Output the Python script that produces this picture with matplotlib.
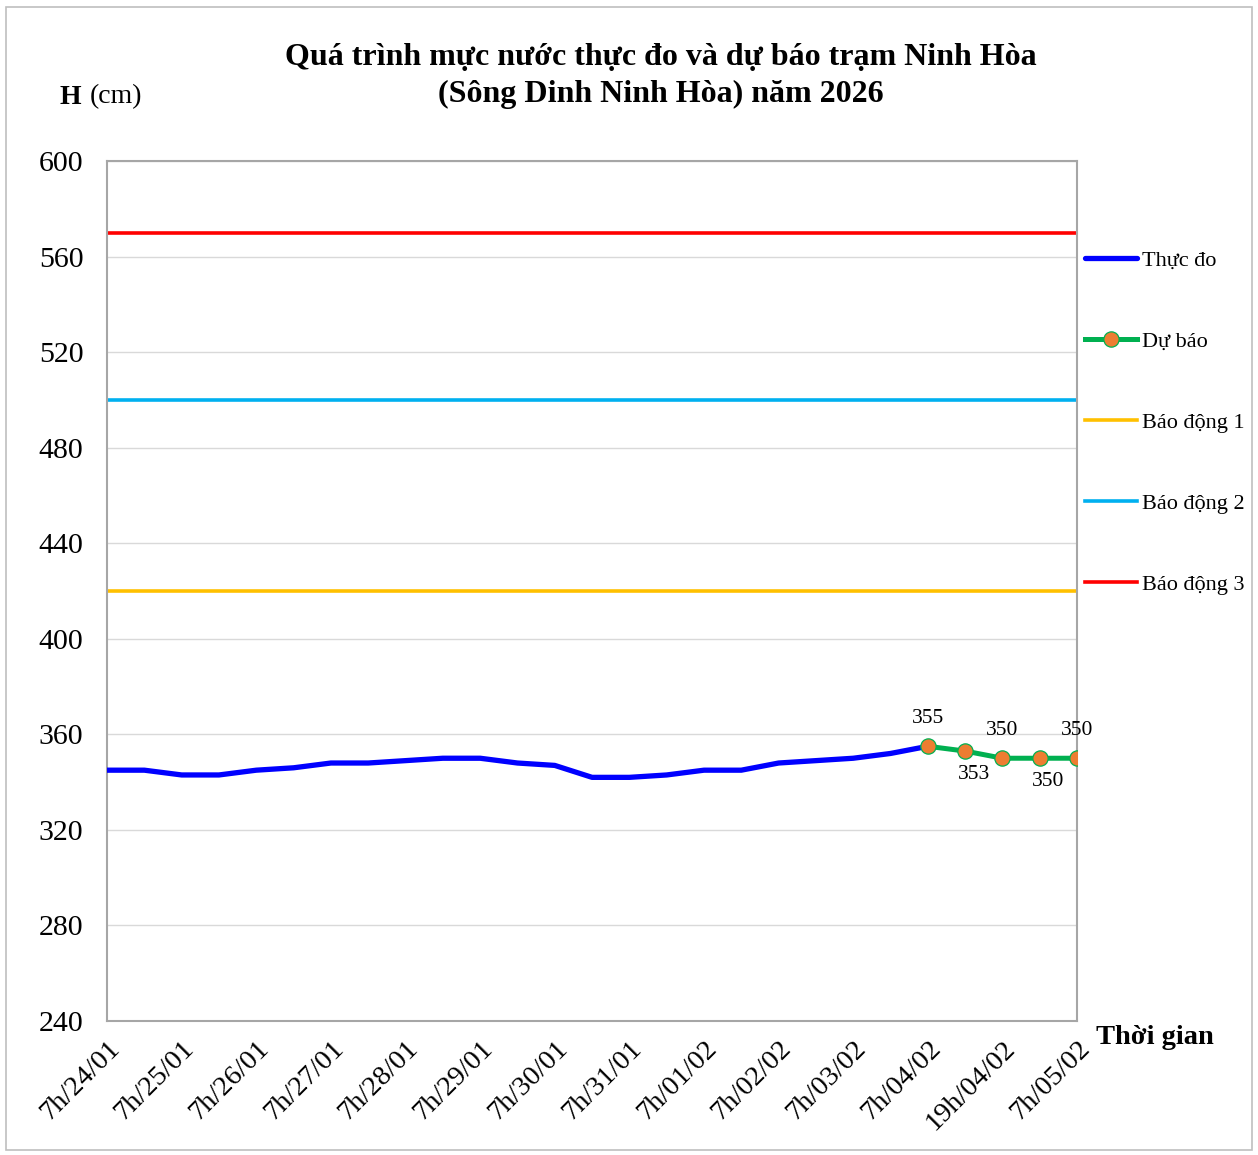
import matplotlib.pyplot as plt
from matplotlib.patches import Rectangle

# tick labels (category axis)
x_labels = ['7h/24/01', '7h/25/01', '7h/26/01', '7h/27/01', '7h/28/01', '7h/29/01',
            '7h/30/01', '7h/31/01', '7h/01/02', '7h/02/02', '7h/03/02', '7h/04/02',
            '19h/04/02', '7h/05/02']

# measured water level, every 12h from 7h/24/01 to 7h/04/02
obs_x = [i * 0.5 for i in range(23)]
obs_h = [345, 345, 343, 343, 345, 346, 348, 348, 349, 350, 350, 348,
         347, 342, 342, 343, 345, 345, 348, 349, 350, 352, 355]

# forecast
fc_x = [11, 11.5, 12, 12.5, 13]
fc_h = [355, 353, 350, 350, 350]
fc_label_pos = ['above', 'below', 'above', 'below', 'above']

# alarm levels
alarm1 = 420
alarm2 = 500
alarm3 = 570

plt.rcParams['font.family'] = ['Liberation Serif', 'DejaVu Serif']

fig = plt.figure(figsize=(12.58, 11.55), dpi=100)
ax = fig.add_axes([0.0851, 0.1160, 0.7711, 0.7446])

fig.patches.append(Rectangle((0.005, 0.004), 0.99, 0.99, transform=fig.transFigure,
                             fill=False, edgecolor='#BFBFBF', linewidth=1.2))

x_end = len(x_labels) - 1
l_obs, = ax.plot(obs_x, obs_h, color='#0000FF', lw=3.8, solid_joinstyle='round',
                 solid_capstyle='round', zorder=4, label='Thực đo')
l_fc, = ax.plot(fc_x, fc_h, color='#00B050', lw=3.6, marker='o', markersize=11,
                markerfacecolor='#ED7D31', markeredgecolor='#00B050', markeredgewidth=0.9,
                zorder=5, label='Dự báo')
l_a1, = ax.plot([0, x_end], [alarm1, alarm1], color='#FFC000', lw=2.6, label='Báo động 1')
l_a2, = ax.plot([0, x_end], [alarm2, alarm2], color='#00B0F0', lw=2.6, label='Báo động 2')
l_a3, = ax.plot([0, x_end], [alarm3, alarm3], color='#FF0000', lw=2.6, label='Báo động 3')

for xv, hv, pos in zip(fc_x, fc_h, fc_label_pos):
    if pos == 'above':
        ax.annotate(str(hv), (xv, hv), xytext=(0, 13), textcoords='offset points',
                    ha='center', va='bottom', fontsize=15.5)
    else:
        ax.annotate(str(hv), (xv, hv), xytext=(6, -10), textcoords='offset points',
                    ha='center', va='top', fontsize=15.5)

ax.set_xlim(0, x_end)
ax.set_ylim(240, 600)
ax.set_yticks(range(240, 601, 40))
ax.set_xticks(range(len(x_labels)))
ax.set_xticklabels(x_labels, rotation=45, ha='right', rotation_mode='anchor', fontsize=20.5)
ax.tick_params(axis='y', length=0, pad=17, labelsize=21.5)
ax.tick_params(axis='x', length=0, pad=11)
ax.grid(axis='y', color='#D9D9D9', lw=1)
ax.set_axisbelow(True)
for s in ax.spines.values():
    s.set_color('#A6A6A6')
    s.set_linewidth(1.5)

fig.text(0.525, 0.950, 'Quá trình mực nước thực đo và dự báo trạm Ninh Hòa',
         ha='center', va='center', fontsize=23, fontweight='bold')
fig.text(0.525, 0.918, '(Sông Dinh Ninh Hòa) năm 2026',
         ha='center', va='center', fontsize=23, fontweight='bold')
fig.text(0.047, 0.916, 'H', ha='left', va='center', fontsize=20, fontweight='bold')
fig.text(0.071, 0.916, '(cm)', ha='left', va='center', fontsize=20)
fig.text(0.871, 0.102, 'Thời gian', ha='left', va='center', fontsize=20.5, fontweight='bold')

fig.legend(handles=[l_obs, l_fc, l_a1, l_a2, l_a3], loc='upper left',
           bbox_to_anchor=(0.8555, 0.791), frameon=False, fontsize=16,
           labelspacing=2.72, handlelength=2.35, handletextpad=0.2, borderaxespad=0)

fig.savefig('out.png', dpi=100)
